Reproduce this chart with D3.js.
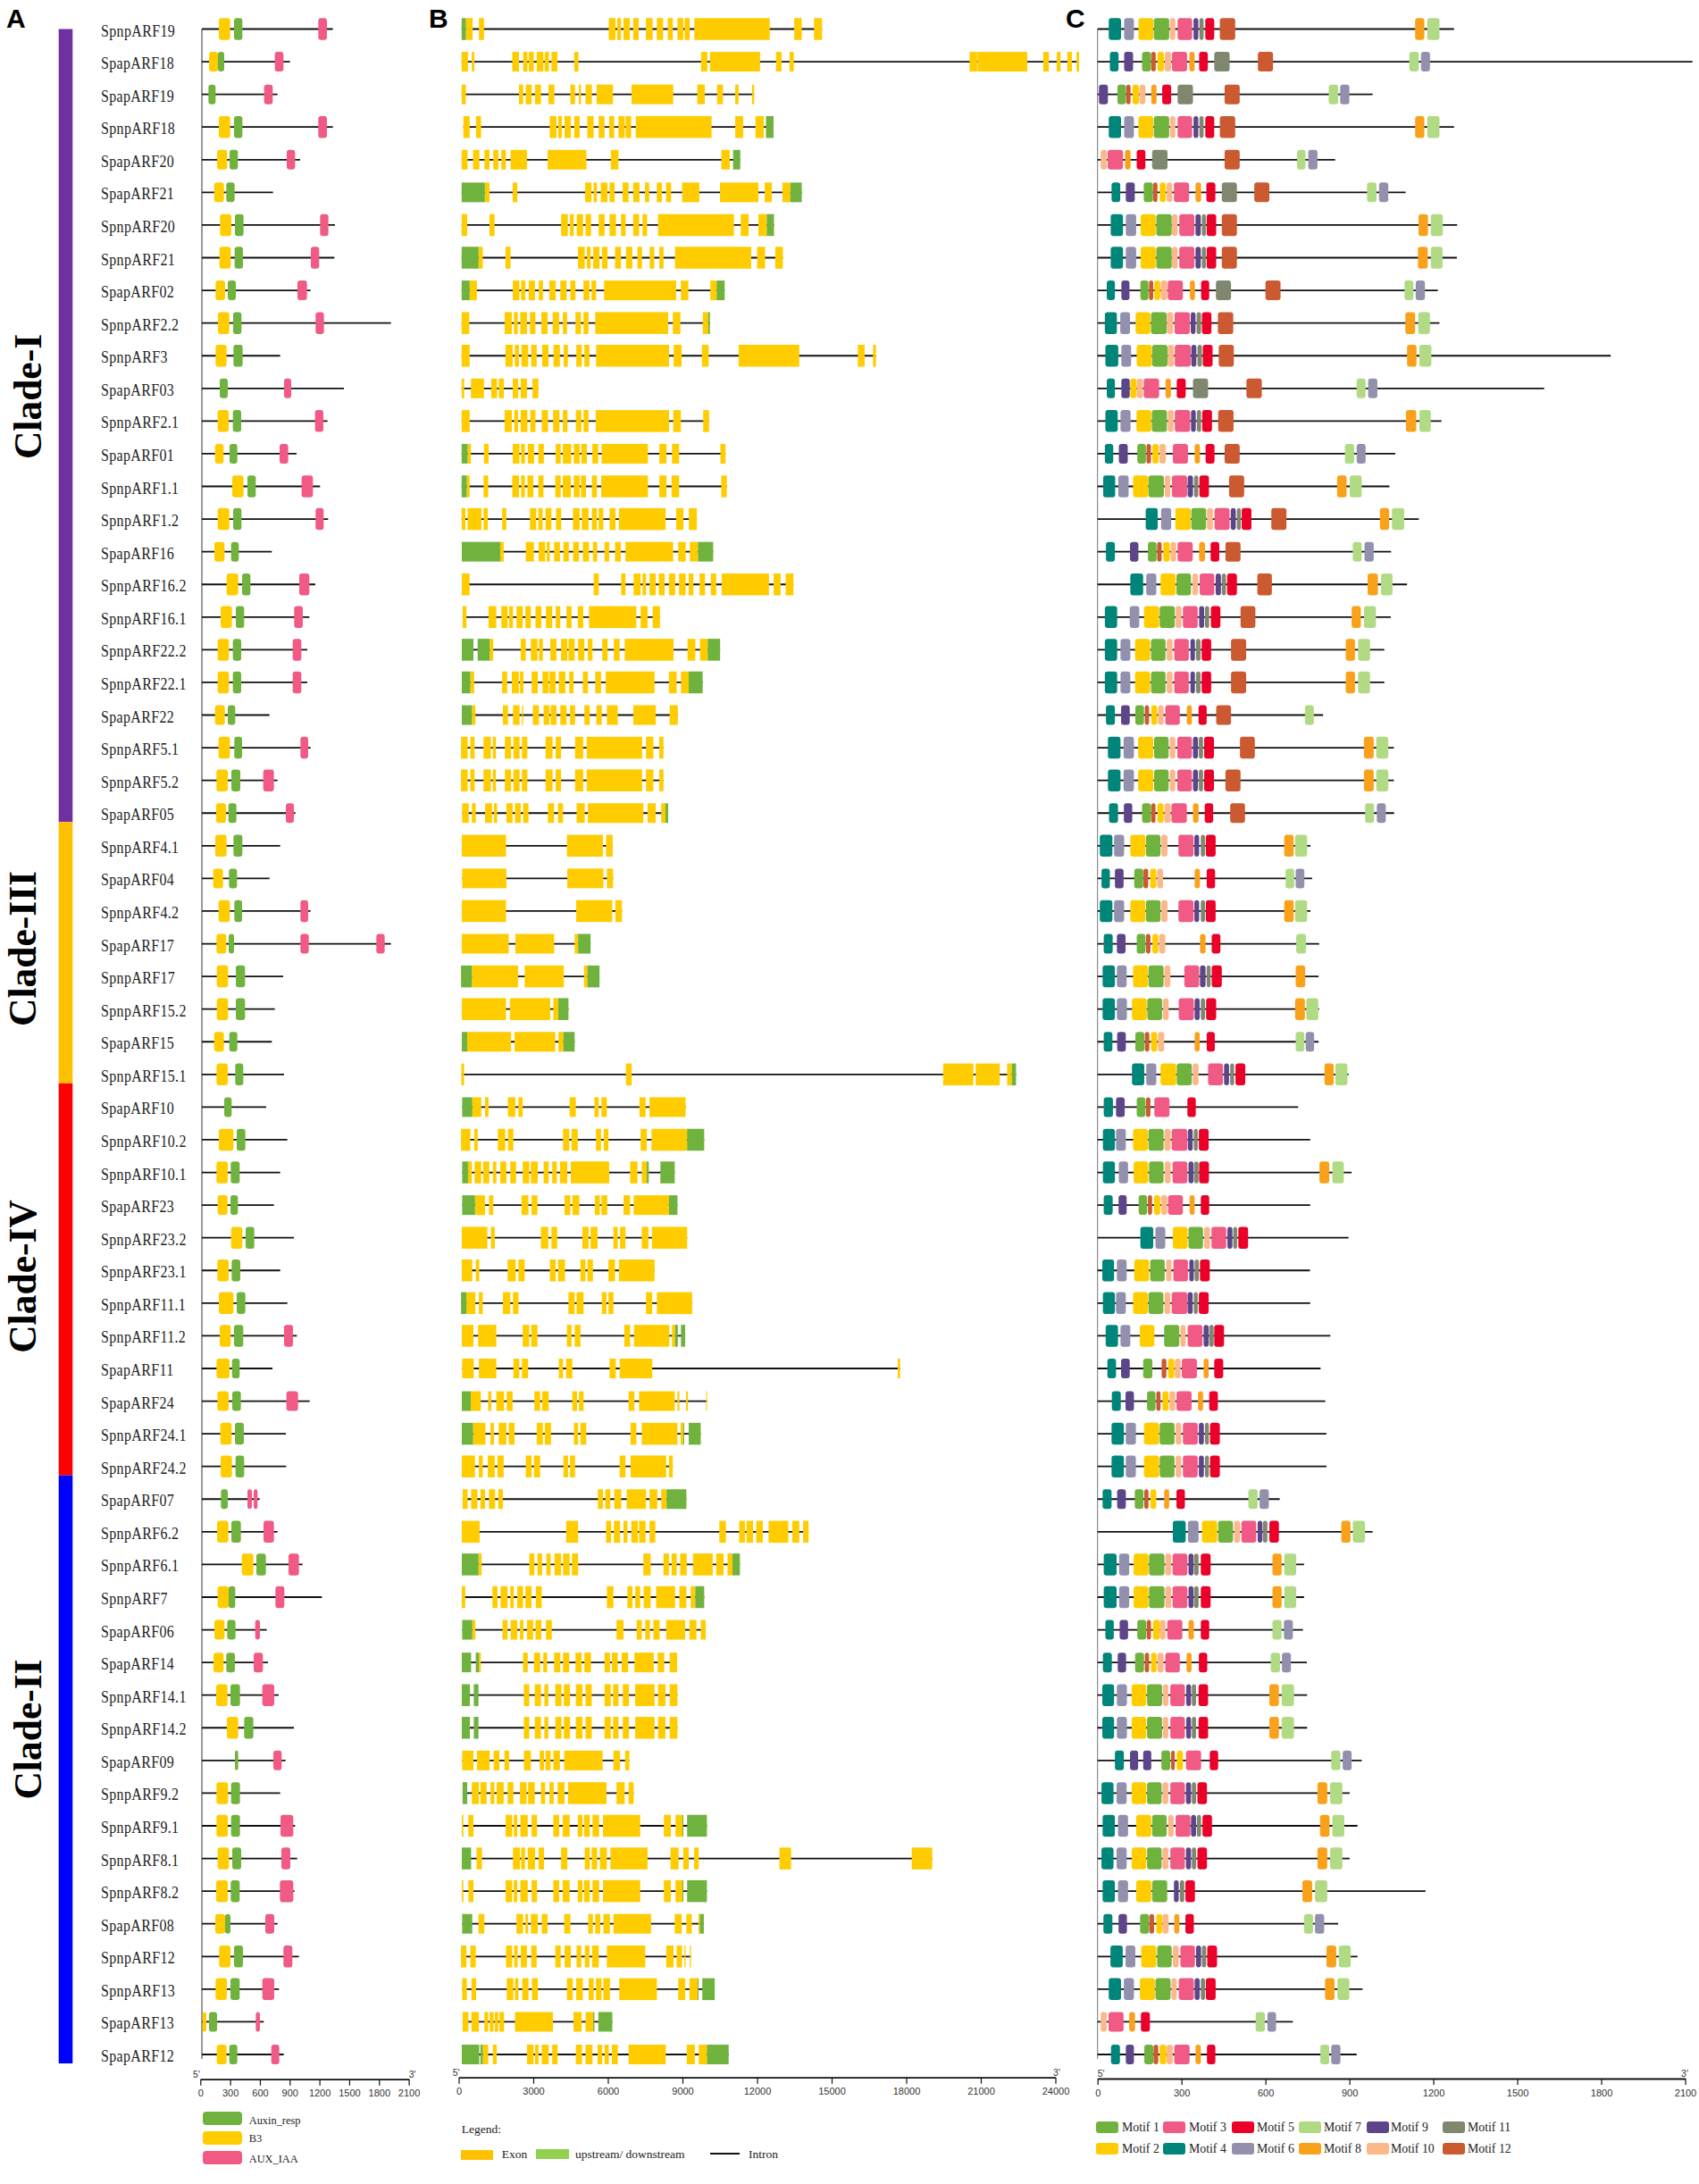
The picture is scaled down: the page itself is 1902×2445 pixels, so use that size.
<!DOCTYPE html>
<html>
<head>
<meta charset="utf-8">
<title>ARF gene family</title>
<script src="https://cdn.jsdelivr.net/npm/d3@7"></script>
<style>
  html, body { margin: 0; padding: 0; background: #fff; }
  svg { display: block; }
</style>
</head>
<body>
<div id="chart"></div>
<script>
const geneNames = [
  "SpnpARF19","SpapARF18","SpapARF19","SpnpARF18","SpapARF20","SpapARF21","SpnpARF20","SpnpARF21","SpapARF02","SpnpARF2.2",
  "SpnpARF3","SpapARF03","SpnpARF2.1","SpapARF01","SpnpARF1.1","SpnpARF1.2","SpapARF16","SpnpARF16.2","SpnpARF16.1","SpnpARF22.2",
  "SpnpARF22.1","SpapARF22","SpnpARF5.1","SpnpARF5.2","SpapARF05",
  "SpnpARF4.1","SpapARF04","SpnpARF4.2","SpapARF17","SpnpARF17","SpnpARF15.2","SpapARF15","SpnpARF15.1",
  "SpapARF10","SpnpARF10.2","SpnpARF10.1","SpapARF23","SpnpARF23.2","SpnpARF23.1","SpnpARF11.1","SpnpARF11.2","SpapARF11",
  "SpapARF24","SpnpARF24.1","SpnpARF24.2",
  "SpapARF07","SpnpARF6.2","SpnpARF6.1","SpnpARF7","SpapARF06","SpapARF14","SpnpARF14.1","SpnpARF14.2","SpapARF09","SpnpARF9.2",
  "SpnpARF9.1","SpnpARF8.1","SpnpARF8.2","SpapARF08","SpnpARF12","SpnpARF13","SpapARF13","SpapARF12"
];

const cladeNames = ["Clade-I", "Clade-III", "Clade-IV", "Clade-II"];
const cladeSizes = [25, 8, 12, 18];

// panel A, amino acids
const proteinLength = [
  1320,888,762,1320,990,717,1341,1335,1095,1905,789,1431,1266,954,1191,1272,705,1143,1083,1062,1062,681,1095,762,942,
  789,681,1095,1905,819,735,705,828,
  648,861,789,726,927,789,861,957,711,1086,846,849,
  582,762,1014,1209,654,666,774,927,843,789,939,960,933,762,978,777,624,825
];
const b3Domain = [
  [171,285],[72,162],null,[171,285],[153,255],[123,222],[183,297],[177,291],[138,234],[162,276],[138,249],null,[159,270],[132,219],[306,420],[159,276],
  [126,228],[249,366],[189,303],[159,273],[159,273],[132,231],[168,282],[147,261],[144,243],
  [135,249],[114,213],[168,282],[147,246],[150,264],[150,264],[123,222],[147,261],
  null,[171,318],[147,261],[159,258],[294,408],[156,270],[171,318],[180,291],[147,279],[156,270],[186,300],[189,303],
  null,[153,267],[402,519],[159,270],[126,228],[117,219],[144,258],[252,366],null,[147,264],[147,261],[159,273],[144,261],[135,234],[174,288],[138,252],[6,45],[150,249]
];
const auxinDomain = [
  [324,408],[162,225],[66,138],[324,408],[279,363],[246,330],[333,420],[330,414],[261,342],[315,399],[318,411],[180,261],[312,396],[279,357],[459,543],[315,399],
  [294,372],[405,489],[342,426],[312,396],[312,396],[261,336],[327,405],[297,387],[267,348],
  [318,408],[273,354],[327,405],[270,324],[342,435],[342,435],[276,357],[336,417],
  [225,300],[351,438],[291,381],[288,363],[441,528],[300,387],[351,438],[324,417],[303,381],[306,393],[333,423],[339,426],
  [192,261],[297,393],[549,645],[270,336],[255,339],[246,333],[288,384],[426,519],[333,366],[294,384],[294,384],[306,396],[291,381],[234,288],[324,414],[288,381],[72,153],[276,357]
];
const auxIaaDomain = [
  [1173,1260],[735,822],[627,714],[1173,1260],[855,939],[],[1191,1275],[1098,1182],[963,1059],[1146,1230],[],[828,900],[1140,1224],[783,870],[1005,1119],[1146,1227],
  [],[981,1083],[930,1017],[915,1002],[915,1002],[],[993,1071],[618,726],[846,927],
  [],[],[993,1071],[993,1077,1758,1842],[],[],[],[],
  [],[],[],[],[],[],[],[828,918],[],[852,969],[],[],
  [459,504,522,561],[621,726],[873,978],[741,831],[537,585],[522,615],[609,729],[],[720,804],[],[792,921],[801,891],[786,921],[639,729],[822,912],[609,729],[543,585],[699,780]
];

// panel B, base pairs: start,end pairs
const geneExons = [
  [288,560,815,1018,6035,6307,6375,6527,6628,6883,7018,7239,7528,7799,7967,8222,8408,8611,8798,9036,9086,9290,9476,12511,13494,13799,14290,14613],
  [119,374,526,628,2154,2425,2594,2764,2814,3018,3137,3408,3459,3629,3730,3968,4645,4815,9748,10001,10104,12121,12765,12986,13307,13477,20546,20851,20868,22868,23512,23733,24055,24207,24478,24665,24851,24954],
  [119,288,2425,2594,2696,2934,3069,3307,3611,3849,4492,4680,4832,4916,5103,5358,5544,6205,6951,8629,9595,9900,10392,10629,11121,11257,11798,11883],
  [187,442,695,899,3663,3933,4001,4153,4256,4509,4645,4866,5171,5426,5629,5866,6052,6255,6425,6679,6714,6934,7120,10171,11121,11442,11935,12274],
  [119,357,577,832,1035,1238,1391,1595,1713,1899,2086,2747,3577,5137,6120,6425,10562,10901],
  [1051,1238,2173,2357,5086,5341,5426,5561,5713,5985,6069,6272,6594,6832,7018,7272,7493,7662,7967,8171,8340,8543,8984,9679,10510,12053,12307,12595,13019,13341],
  [119,340,1238,1441,4120,4391,4476,4628,4747,5002,5103,5324,5629,5866,6069,6324,6527,6714,7018,7256,7391,7577,8018,11069,11341,11663,12053,12392],
  [798,968,1882,2086,4798,5069,5154,5306,5409,5662,5764,5985,6289,6527,6731,6984,7188,7374,7680,7866,8070,8239,8697,11764,12002,12325,12731,13037],
  [442,730,2173,2442,2510,2679,2814,3069,3221,3391,3646,3900,4087,4340,4492,4696,5019,5256,5341,5527,5849,8748,8934,9239,10120,10375],
  [119,425,1848,2137,2221,2374,2476,2747,2866,3086,3324,3577,3781,4036,4188,4357,4696,4916,5019,5222,5492,8425,8612,8917,9816,10037],
  [119,442,1882,2171,2255,2424,2527,2797,2916,3137,3357,3612,3815,4070,4222,4391,4730,4951,5053,5256,5527,8460,8646,8968,9782,10053,11257,13698,16054,16326,16665,16783],
  [119,221,492,1018,1306,1543,1612,1814,2173,2391,2493,2747,2967,3205],
  [119,442,1848,2137,2238,2390,2493,2764,2882,3086,3340,3594,3798,4053,4188,4374,4713,4934,5019,5222,5510,8460,8629,8934,9833,10070],
  [357,492,1018,1204,2173,2442,2510,2662,2780,3035,3204,3425,3900,4104,4188,4527,4629,4866,4933,5154,5375,5612,5747,7611,8070,8357,8578,8866,10527,10731],
  [322,442,1001,1188,2154,2425,2510,2662,2764,3001,3204,3408,3884,4104,4188,4510,4629,4866,4916,5120,5357,5561,5730,7611,8070,8357,8561,8866,10562,10783],
  [119,272,357,916,1001,1171,1747,1916,2866,3120,3204,3374,3493,3730,3916,4120,4595,4866,4951,5222,5358,5561,5629,5815,6069,6307,6442,8323,8747,9036,9256,9578],
  [1669,1810,2699,3026,3214,3479,3541,3666,3838,4072,4212,4430,4602,4836,4992,5242,5398,5569,5866,6053,6287,6521,6708,8627,8830,9126,9298,9625],
  [125,437,5429,5632,6536,6708,7036,7316,7394,7535,7675,7925,8050,8284,8455,8705,8861,9126,9251,9438,9688,9906,10140,10358,10577,12480,12667,12948,13151,13463],
  [156,312,1201,1513,1716,1966,2028,2184,2324,2574,2683,2902,3089,3323,3510,3760,3900,4087,4337,4540,4789,5008,5242,7145,7316,7597,7800,8096],
  [1248,1388,2496,2699,2902,3167,3229,3385,3682,3931,4118,4368,4415,4664,4805,5054,5195,5382,5772,5990,6240,6474,6677,8642,9204,9516,9703,10015],
  [468,624,1747,1950,2137,2418,2465,2605,2933,3182,3370,3619,3650,3900,4025,4290,4446,4618,4992,5195,5491,5725,5912,7878,8455,8767,8939,9251],
  [530,671,1778,1981,2184,2449,2543,2590,2980,3229,3416,3650,3697,3931,4087,4337,4477,4680,5054,5273,5538,5756,5959,6396,7020,7925,8486,8814],
  [94,359,468,640,998,1295,1373,1498,1856,2106,2200,2449,2543,2761,3494,3775,3900,4118,4680,5008,5148,7379,7535,7831,8065,8237],
  [94,359,468,640,998,1295,1373,1498,1856,2106,2200,2449,2543,2761,3494,3775,3900,4118,4680,5008,5148,7379,7535,7831,8065,8237],
  [140,406,530,686,1061,1342,1420,1544,1919,2168,2262,2496,2590,2808,3588,3838,3994,4196,4742,5070,5195,7426,7597,7925,8143,8315],
  [125,1903,4352,5803,5928,6193],
  [140,1919,4368,5819,5959,6209],
  [125,1903,4727,6178,6302,6568],
  [125,2012,2278,3838,4664,4805],
  [530,2387,2652,4228,5039,5179],
  [125,1903,2059,3682,3806,4009],
  [343,2106,2246,3884,4009,4212],
  [109,218,6724,6958,19484,20701,20795,21762,22058,22246],
  [546,905,1061,1201,1981,2278,2402,2574,4462,4711,5460,5632,5741,5959,7270,7519,7675,9126],
  [94,468,624,764,1576,1872,1981,2200,4196,4446,4540,4789,5522,5725,5834,6022,7316,7566,7753,9188],
  [374,530,640,905,983,1232,1373,1513,1669,1919,2075,2309,2574,2839,2902,3182,3416,3619,3760,3947,4072,4368,4508,6053,6895,7192,7363,7566],
  [655,1061,1217,1388,2527,2808,2933,3167,4259,4493,4571,4852,5476,5678,5741,5975,6630,6895,7036,8455],
  [125,1154,1295,1451,3307,3604,3728,3962,4976,5226,5304,5585,6224,6396,6490,6708,7363,7628,7769,9188],
  [125,546,686,827,1966,2293,2402,2652,3666,3900,3994,4274,4898,5101,5179,5398,6022,6287,6443,7878],
  [312,671,811,967,1778,2075,2184,2402,4415,4664,4742,5023,5756,5944,6022,6224,7535,7784,7972,9391],
  [125,593,780,1513,2574,2839,2917,3167,4352,4540,4664,4898,6661,6895,7051,8471,8580,8705],
  [140,608,811,1513,2200,2434,2543,2792,4025,4196,4321,4571,6068,6318,6474,7784,17659,17753],
  [484,889,1186,1310,1513,1825,1934,2168,3042,3276,3354,3619,4571,4758,4836,5023,6833,7067,7254,8689,8798,8876,9142,9220,9953,9984],
  [577,1076,1279,1420,1607,1919,2012,2246,3136,3385,3463,3713,4633,4805,4898,5132,6911,7145,7363,8798,8923,9032],
  [125,655,811,967,1170,1451,1560,1810,2699,2933,3026,3276,4212,4399,4477,4680,6474,6708,6911,8346,8455,8611],
  [156,359,499,749,874,1061,1217,1466,1591,1778,5600,5803,5897,6100,6256,6536,6755,7535,7675,7987,8143,8362],
  [125,842,4321,4805,5928,6131,6240,6490,6630,6786,6942,7207,7254,7519,7675,7909,10483,10748,11279,11513,11575,11840,11965,12230,12464,13260,13416,13697,13853,14071],
  [796,921,2839,3042,3167,3354,3526,3697,3853,4118,4196,4462,4555,4805,7426,7722,8237,8455,8564,8767,8908,9173,9422,10218,10358,10655,10811,11014],
  [125,265,1357,1560,1685,1966,2075,2215,2356,2590,2683,2933,3104,3338,5959,6224,6786,6989,7098,7301,7441,7722,7940,8705,8876,9157,9329,9516],
  [546,671,1763,1966,2090,2356,2465,2605,2746,2995,3089,3323,3510,3744,6349,6630,7160,7363,7504,7691,7831,8081,8346,9110,9282,9563,9734,9937],
  [811,889,2590,2777,3026,3276,3401,3557,3838,4087,4196,4446,4696,4945,5054,5320,5866,6084,6162,6396,6552,6817,7067,7847,8003,8268,8486,8783],
  [2621,2839,3058,3307,3448,3604,3884,4134,4228,4477,4711,4976,5101,5351,5866,6115,6209,6427,6599,6848,7098,7878,8018,8315,8486,8798],
  [2621,2839,3058,3307,3448,3604,3884,4134,4228,4477,4711,4976,5101,5351,5866,6115,6209,6427,6599,6848,7098,7878,8018,8315,8486,8798],
  [140,593,733,1248,1404,1638,1841,2028,2621,2902,3260,3432,3494,3697,3806,4072,4243,5788,6224,6490,6692,6864],
  [530,811,874,1123,1279,1435,1529,1810,1966,2200,2465,2730,2792,3058,3307,3479,3650,3822,3978,4259,4399,5944,6349,6677,6833,7036],
  [125,187,390,593,1888,2153,2215,2356,2480,2777,2933,3151,3806,4040,4181,4462,4789,4976,5039,5273,5382,5647,5803,7301,8252,8533,8720,9001],
  [718,936,2184,2465,2512,2668,2777,3073,3214,3432,4118,4368,5070,5273,5351,5569,5678,5959,6100,7597,8518,8845,9032,9251,9469,9656,12901,13369,18221,19048],
  [125,187,390,593,1888,2153,2215,2356,2480,2777,2933,3151,3806,4040,4181,4462,4789,4976,5039,5273,5382,5647,5803,7301,8252,8533,8720,9001],
  [796,1030,2324,2590,2683,2792,2902,3182,3338,3572,4243,4493,5210,5398,5491,5694,5819,6084,6224,7738,8689,8970,9157,9376,9641,9703],
  [94,312,468,686,1903,2153,2231,2371,2496,2746,2917,3136,3884,4103,4259,4508,4742,4930,5070,5257,5366,5632,5959,7504,8346,8642,8767,8986,9079,9126,9298,9344],
  [140,328,515,702,1934,2200,2262,2402,2558,2808,2948,3182,4352,4586,4727,4992,5226,5429,5522,5741,5819,6084,6458,7972,8830,9110,9282,9610],
  [156,390,515,811,1030,1186,1248,1404,1451,1591,1638,1825,2262,3791,4618,4945,5101,5413],
  [967,1186,1373,1529,2746,3011,3073,3214,3338,3619,3760,3978,4711,4961,5101,5382,5585,5772,5866,6037,6162,6396,6833,8330,9173,9500,9656,9984]
];
const geneUtrs = [
  [119,288],[],[],[12358,12664],[11036,11324],[119,1051,13341,13799],[12392,12681],[119,798],[119,442,10375,10697],[10037,10104],
  [],[],[],[119,357],[119,322],[],[125,1669,9625,10234],[],[],[125,593,764,1248,10015,10514],
  [125,468,9251,9812],[125,530],[],[],[8315,8424],
  [],[],[],[4805,5304],[94,530,5179,5663],[4009,4415],[125,343,4212,4664],[22246,22417],
  [140,546],[9188,9874],[140,374,7566,7644,8112,8689],[140,655,8455,8798],[],[],[94,312],[8705,8814,8939,9110],[],
  [125,484],[125,577,9032,9064,9251,9734],[],
  [8362,9157],[],[125,796,11014,11310],[9516,9875],[140,546],[125,499,686,811],[125,452,608,796],[125,452,608,796],[],[156,343],
  [9001,9032,9188,9984],[125,499],[9001,9032,9188,9984],[140,546,9703,9859],[],[9610,9641,9797,10296],[5413,5460,5616,6178],[125,827,874,967,9984,10858]
];

// panel C, amino acids
const motifLength = [
  1274,2126,983,1274,849,1101,1285,1284,1216,1222,1834,1596,1229,1064,1043,1148,1049,1106,1048,1025,1025,806,1059,1059,1060,
  761,767,761,792,790,792,790,897,
  717,760,908,760,897,759,760,832,797,814,818,818,
  651,983,738,738,734,748,749,749,944,901,929,901,1172,860,929,947,698,926
];
// motif number, start, end
const geneMotifs = [
  [4,40,84,6,95,130,2,146,199,1,201,256,10,259,278,3,286,338,9,343,360,11,364,379,5,385,417,12,437,492,8,1135,1168,7,1178,1222],
  [4,44,75,9,95,127,1,159,191,12,192,208,2,214,237,10,240,263,3,266,320,8,328,347,5,363,394,11,417,472,12,573,627,7,1114,1148,6,1156,1188],
  [9,5,37,1,71,101,12,102,118,2,125,148,10,150,171,8,192,211,5,231,263,11,286,341,12,454,508,7,826,860,6,867,900],
  [4,40,84,6,95,130,2,146,199,1,201,256,10,259,278,3,286,338,9,343,360,11,364,379,5,385,417,12,437,492,8,1135,1168,7,1178,1222],
  [10,11,33,3,36,91,8,98,118,5,140,171,11,195,250,12,454,508,7,713,743,6,753,786],
  [4,50,81,9,101,133,1,165,198,12,199,214,2,222,244,10,247,267,3,273,327,8,350,370,5,389,421,11,444,498,12,560,614,7,963,997,6,1006,1039],
  [4,47,91,6,101,138,2,154,208,1,210,265,10,266,286,3,292,346,9,350,369,11,373,387,5,390,424,12,444,498,8,1147,1181,7,1191,1234],
  [4,47,91,6,101,138,2,154,208,1,210,265,10,266,286,3,292,346,9,350,369,11,373,387,5,390,424,12,444,498,8,1145,1180,7,1191,1233],
  [4,33,62,9,85,114,1,153,182,12,184,199,2,203,224,10,226,249,3,251,305,8,330,348,5,370,399,11,423,477,12,600,654,7,1097,1129,6,1137,1170],
  [4,26,69,6,81,116,2,136,189,1,191,247,10,248,270,3,275,330,9,333,350,11,354,370,5,373,407,12,430,485,8,1100,1135,7,1146,1188],
  [4,28,74,6,85,120,2,140,194,1,195,250,10,251,273,3,276,333,9,335,353,11,357,373,5,376,411,12,433,487,8,1106,1140,7,1150,1193],
  [4,33,62,9,85,115,2,117,139,10,140,162,3,165,220,8,243,262,5,283,315,11,341,395,12,532,587,7,926,958,6,967,1000],
  [4,28,72,6,82,118,2,139,192,1,194,248,10,251,272,3,276,331,9,334,351,11,355,370,5,374,409,12,431,486,8,1102,1139,7,1150,1191],
  [4,26,56,9,76,108,1,142,173,12,175,191,2,196,218,10,221,244,3,269,323,8,347,366,5,386,418,12,454,508,7,884,917,6,926,958],
  [4,20,63,6,74,111,2,127,181,1,182,237,10,240,260,3,266,320,9,322,341,11,345,360,5,364,398,12,470,524,8,856,890,7,901,944],
  [4,172,215,6,227,263,2,278,333,1,335,388,10,391,412,3,418,472,9,476,494,11,498,512,5,515,550,12,621,675,8,1009,1042,7,1052,1096],
  [4,30,62,9,116,146,1,180,211,12,213,229,2,235,258,10,261,281,3,286,340,8,363,384,5,404,435,12,457,511,7,912,944,6,954,987],
  [4,117,163,6,174,210,2,225,279,1,282,334,10,339,359,3,365,417,9,422,441,11,444,459,5,463,498,12,571,623,8,965,1002,7,1013,1054],
  [4,26,70,6,115,149,2,166,220,1,222,276,10,279,300,3,305,358,9,363,381,11,384,399,5,405,439,12,511,564,8,908,941,7,952,995],
  [4,26,70,6,82,117,2,134,188,1,191,243,10,247,268,3,274,326,9,332,348,11,352,368,5,372,406,12,477,531,8,887,920,7,931,974],
  [4,26,70,6,82,117,2,134,188,1,191,243,10,247,268,3,274,326,9,332,348,11,352,368,5,372,406,12,477,531,8,887,920,7,931,974],
  [4,30,62,9,84,115,1,135,166,12,169,184,2,192,213,10,216,236,3,242,294,8,319,337,5,361,390,12,424,477,7,741,773],
  [4,37,82,6,93,130,2,145,199,1,202,254,10,258,278,3,285,337,9,341,359,11,362,377,5,381,416,12,509,562,8,952,987,7,996,1039],
  [4,37,82,6,93,130,2,145,199,1,202,254,10,258,278,3,285,337,9,341,359,11,362,377,5,381,416,12,457,511,8,952,987,7,996,1039],
  [4,41,73,9,94,124,1,159,191,12,192,207,2,214,236,10,239,261,3,264,319,8,341,361,5,383,413,12,474,527,7,956,988,6,998,1030],
  [4,8,53,6,59,95,2,117,171,1,173,225,10,228,250,3,289,343,9,346,363,11,369,384,5,387,422,8,667,701,7,706,749],
  [4,14,44,9,62,93,1,131,163,12,164,181,2,188,210,10,213,234,8,347,366,5,390,420,7,672,703,6,708,739],
  [4,8,53,6,59,95,2,117,171,1,173,225,10,228,250,3,289,343,9,346,363,11,369,384,5,387,422,8,667,701,7,706,749],
  [4,22,54,9,69,100,1,140,171,12,173,189,2,196,217,10,220,242,8,366,386,5,408,439,7,710,745],
  [4,18,62,6,69,104,2,127,180,1,182,236,10,239,260,3,310,363,9,366,386,11,390,404,5,408,444,8,708,742],
  [4,18,62,6,69,105,2,123,176,1,178,231,10,234,254,3,290,344,9,347,365,11,369,384,5,388,424,8,706,741,7,746,789],
  [4,22,53,9,70,101,1,135,167,12,169,185,2,191,213,10,216,238,8,347,365,5,390,419,7,708,739,6,744,774],
  [4,123,167,6,174,210,2,225,281,1,283,337,10,340,361,3,395,448,9,452,470,11,474,488,5,493,528,8,811,844,7,850,893],
  [4,22,55,9,66,97,1,140,171,12,173,189,3,203,257,5,321,351],
  [4,19,62,6,66,101,2,127,180,1,182,236,10,239,261,3,265,321,9,323,340,11,344,358,5,362,397],
  [4,19,62,6,76,109,2,129,181,1,184,236,10,240,261,3,268,321,9,325,343,11,345,361,5,363,398,8,793,828,7,839,880],
  [4,22,54,9,75,104,1,147,177,12,180,195,2,202,224,10,227,249,3,252,305,8,329,347,5,369,399],
  [4,153,199,6,207,242,2,269,322,1,325,377,10,381,402,3,407,460,9,464,482,11,485,499,5,503,538],
  [4,17,59,6,69,104,2,131,184,1,188,240,10,245,264,3,271,323,9,328,344,11,347,362,5,366,401],
  [4,19,62,6,66,101,2,127,180,1,182,235,10,239,260,3,265,321,9,322,340,11,344,358,5,362,397],
  [4,29,73,6,82,117,2,151,203,1,238,292,10,296,315,3,322,375,9,379,397,11,399,415,5,417,452],
  [4,35,66,9,84,115,1,163,196,12,229,246,2,252,274,10,276,297,3,301,355,8,379,397,5,417,449],
  [4,51,83,9,100,130,1,177,207,12,210,225,2,232,254,10,257,278,3,282,336,8,359,377,5,399,430],
  [4,50,94,6,101,137,2,166,220,1,222,275,10,279,299,3,305,358,9,362,380,11,384,398,5,402,437],
  [4,50,94,6,101,137,2,166,220,1,222,275,10,279,299,3,305,358,9,362,380,11,384,398,5,402,437],
  [4,18,50,9,70,101,1,133,164,12,167,182,2,189,210,8,238,256,5,282,312,7,539,572,6,579,612],
  [4,269,315,6,323,361,2,373,428,1,431,484,10,488,509,3,514,567,9,572,589,11,591,607,5,614,648,8,871,904,7,912,956],
  [4,22,68,6,77,113,2,129,182,1,184,239,10,242,263,3,268,321,9,325,343,11,345,361,5,369,404,8,625,658,7,667,710],
  [4,22,68,6,77,113,2,129,182,1,184,239,10,242,263,3,268,321,9,325,343,11,345,361,5,369,404,8,625,658,7,667,710],
  [4,28,58,9,79,109,1,142,174,12,176,191,2,198,223,10,223,243,3,249,303,8,325,344,5,369,399,7,625,658,6,666,698],
  [4,19,51,9,72,102,1,134,166,12,169,184,2,191,211,10,214,236,3,242,294,8,318,336,5,362,392,7,619,652,6,659,691],
  [4,17,59,6,69,105,2,122,174,1,177,231,10,234,253,3,260,312,9,317,334,11,337,352,5,361,395,8,614,648,7,658,702],
  [4,17,59,6,69,105,2,122,174,1,177,231,10,234,253,3,260,312,9,317,334,11,337,352,5,361,395,8,614,648,7,658,702],
  [4,62,94,9,116,145,9,163,192,1,228,260,12,263,276,2,283,305,3,316,370,5,401,431,7,835,868,6,876,908],
  [4,14,57,6,68,104,2,122,174,1,177,229,10,232,253,3,260,312,9,316,334,11,337,352,5,357,391,8,786,821,7,831,875],
  [4,18,62,6,73,109,2,138,192,1,195,247,10,252,272,3,279,332,9,334,352,11,355,370,5,375,409,8,795,829,7,839,882],
  [4,14,57,6,68,104,2,122,174,1,177,229,10,232,253,3,260,312,9,316,334,11,337,352,5,357,391,8,786,821,7,831,875],
  [4,18,62,6,73,109,2,138,192,1,195,249,9,273,290,11,294,310,5,314,348,8,732,767,7,777,821],
  [4,21,53,9,75,105,1,152,184,12,185,202,2,210,231,10,232,254,8,274,292,5,314,344,7,738,770,6,777,810],
  [4,46,90,6,100,135,2,156,210,1,213,265,10,269,290,3,296,348,9,352,370,11,373,388,5,392,427,8,818,853,7,862,905],
  [4,40,84,6,94,130,2,151,205,1,207,261,10,264,283,3,290,344,9,347,365,11,369,384,5,387,422,8,813,847,7,857,900],
  [10,11,33,3,39,93,8,113,134,5,155,187,7,565,598,6,607,638],
  [4,48,80,9,101,130,1,167,199,12,200,217,2,222,246,10,247,269,3,274,329,8,350,369,5,391,421,7,796,828,6,835,868]
];

const aaTicks = [0, 300, 600, 900, 1200, 1500, 1800, 2100];
const bpTicks = [0, 3000, 6000, 9000, 12000, 15000, 18000, 21000, 24000];
const domainNames = ["Auxin_resp", "B3", "AUX_IAA"];
const motifNumbers = d3.range(1, 13);

const COLORS = {
  clades: ["#7030a0", "#ffc000", "#ff0000", "#0000ff"],
  domains: { "Auxin_resp": "#70b23e", "B3": "#ffcc00", "AUX_IAA": "#f05a84" },
  exon: "#ffcc00",
  utr: "#70b23e",
  legendExon: "#ffc000",
  legendUtr: "#92d050",
  motifs: { 1: "#70b23e", 2: "#ffcc00", 3: "#f05a84", 4: "#00857a", 5: "#ea0029", 6: "#9390ae", 7: "#b0db84", 8: "#f9a11b", 9: "#5c4689", 10: "#fbb88a", 11: "#80876f", 12: "#cb5a30" }
};

const width = 1902, height = 2445;
const SERIF = "'Liberation Serif', serif";
const SANS = "'Liberation Sans', Arial, sans-serif";

const svg = d3.select("#chart").append("svg")
  .attr("width", width).attr("height", height)
  .attr("viewBox", `0 0 ${width} ${height}`);

const rowY = d3.scalePoint().domain(d3.range(geneNames.length)).range([32.5, 2300]);
const rowH = i => geneNames[i].startsWith("Spap") ? 22 : 24.5;

const xA = d3.scaleLinear().domain([0, 2100]).range([226, 459.3]);
const xB = d3.scaleLinear().domain([0, 24000]).range([513.5, 1181.5]);
const xC = d3.scaleLinear().domain([0, 2100]).range([1228.7, 1886.5]);

// [1,2,3,4] -> [[1,2],[3,4]]
const toPairs = flat => d3.range(0, flat.length, 2).map(k => [flat[k], flat[k + 1]]);
const toTriples = flat => d3.range(0, flat.length, 3).map(k => ({ motif: flat[k], start: flat[k + 1], end: flat[k + 2] }));

function drawIntrons(x, spans) {
  svg.append("g").selectAll("line")
    .data(spans)
    .enter().append("line")
    .attr("x1", d => x(d.start)).attr("x2", d => x(d.end))
    .attr("y1", d => rowY(d.row)).attr("y2", d => rowY(d.row))
    .attr("stroke", "#111").attr("stroke-width", 1.8);
}

function drawBoxes(x, boxes, radius) {
  svg.append("g").selectAll("rect")
    .data(boxes)
    .enter().append("rect")
    .attr("x", d => x(d.start))
    .attr("width", d => Math.max(x(d.end) - x(d.start), 1))
    .attr("y", d => rowY(d.row) - rowH(d.row) / 2)
    .attr("height", d => rowH(d.row))
    .attr("rx", radius).attr("ry", radius)
    .attr("fill", d => d.color);
}

function drawAxis(x, y, ticks, label5x, label3x, shift) {
  const g = svg.append("g")
    .attr("transform", `translate(${shift},${y})`)
    .call(d3.axisBottom(x).tickValues(ticks).tickFormat(d3.format("d")).tickSize(7).tickPadding(5).tickSizeOuter(0));
  g.select(".domain").attr("stroke", "#111").attr("stroke-width", 1.8);
  g.selectAll(".tick line").attr("stroke", "#111").attr("stroke-width", 1.2);
  g.selectAll("text").attr("font-family", SANS).attr("font-size", 11).attr("fill", "#333");
  [["5'", label5x], ["3'", label3x]].forEach(([t, lx]) => {
    svg.append("text").attr("x", lx).attr("y", y - 2)
      .attr("text-anchor", "middle")
      .attr("font-family", SANS).attr("font-size", 10.5).attr("fill", "#333").text(t);
  });
}

//////////////////////
//  CLADE BAR + LABELS
//////////////////////
const cladeEnds = d3.cumsum(cladeSizes);
const cladeLabelPos = [[46, 444], [40, 1062], [40, 1429], [46, 1936]];
cladeNames.forEach((name, i) => {
  const top = i === 0 ? rowY(0) : rowY(cladeEnds[i - 1] - 1) + 10;
  const bottom = rowY(cladeEnds[i] - 1) + 10;
  svg.append("rect").attr("x", 65.7).attr("width", 15.6)
    .attr("y", top).attr("height", bottom - top)
    .attr("fill", COLORS.clades[i]);
  svg.append("text")
    .attr("transform", `translate(${cladeLabelPos[i][0]},${cladeLabelPos[i][1]}) rotate(-90)`)
    .attr("text-anchor", "middle")
    .attr("font-family", SERIF).attr("font-weight", "bold").attr("font-size", 43.5)
    .text(name);
});

// panel letters
[["A", 7], ["B", 480], ["C", 1193]].forEach(([t, lx]) => {
  svg.append("text").attr("x", lx).attr("y", 31)
    .attr("font-family", SANS).attr("font-weight", "bold").attr("font-size", 30).text(t);
});

// gene labels
svg.append("g").selectAll("text")
  .data(geneNames)
  .enter().append("text")
  .attr("transform", (d, i) => `translate(113,${rowY(i) + 8}) scale(1,1.18)`)
  .attr("font-family", SERIF).attr("font-size", 16).attr("letter-spacing", 0.35).attr("fill", "#222")
  .text(d => d);

//////////////////////
//  PANEL A
//////////////////////
svg.append("line").attr("x1", xA(0)).attr("x2", xA(0))
  .attr("y1", rowY(0)).attr("y2", 2305)
  .attr("stroke", "#777").attr("stroke-width", 1.5);
drawIntrons(xA, proteinLength.map((end, row) => ({ row, start: 0, end })));
const domainBoxes = [];
geneNames.forEach((g, row) => {
  if (b3Domain[row]) domainBoxes.push({ row, start: b3Domain[row][0], end: b3Domain[row][1], color: COLORS.domains["B3"] });
  if (auxinDomain[row]) domainBoxes.push({ row, start: auxinDomain[row][0], end: auxinDomain[row][1], color: COLORS.domains["Auxin_resp"] });
  toPairs(auxIaaDomain[row]).forEach(p => domainBoxes.push({ row, start: p[0], end: p[1], color: COLORS.domains["AUX_IAA"] }));
});
drawBoxes(xA, domainBoxes, 3);
drawAxis(xA, 2327.7, aaTicks, 220, 461.6, -1.7);

domainNames.forEach((name, i) => {
  const top = [2364, 2386, 2408][i];
  svg.append("rect").attr("x", 227).attr("y", top).attr("width", 44).attr("height", 15)
    .attr("rx", 4).attr("fill", COLORS.domains[name]);
  svg.append("text").attr("x", 278.7).attr("y", [2378, 2398, 2421][i])
    .attr("font-family", SERIF).attr("font-size", 12.4).attr("fill", "#222").text(name);
});

//////////////////////
//  PANEL B
//////////////////////
const exonBoxes = [], utrBoxes = [], bSpans = [];
geneNames.forEach((g, row) => {
  const ex = toPairs(geneExons[row]), ut = toPairs(geneUtrs[row]);
  ex.forEach(p => exonBoxes.push({ row, start: p[0], end: p[1], color: COLORS.exon }));
  ut.forEach(p => utrBoxes.push({ row, start: p[0], end: p[1], color: COLORS.utr }));
  const all = geneExons[row].concat(geneUtrs[row]);
  bSpans.push({ row, start: d3.min(all), end: d3.max(all) });
});
drawIntrons(xB, bSpans);
drawBoxes(xB, exonBoxes, 0);
drawBoxes(xB, utrBoxes, 0);
drawAxis(xB, 2325.7, bpTicks, 510.7, 1183, 0);

svg.append("text").attr("x", 516.7).attr("y", 2388)
  .attr("font-family", SERIF).attr("font-size", 13.5).attr("fill", "#222").text("Legend:");
svg.append("rect").attr("x", 516).attr("y", 2407).attr("width", 36).attr("height", 11).attr("fill", COLORS.legendExon);
svg.append("text").attr("x", 561.7).attr("y", 2416)
  .attr("font-family", SERIF).attr("font-size", 13.5).attr("fill", "#222").text("Exon");
svg.append("rect").attr("x", 600).attr("y", 2406).attr("width", 37).attr("height", 11).attr("fill", COLORS.legendUtr);
svg.append("text").attr("x", 644).attr("y", 2416)
  .attr("font-family", SERIF).attr("font-size", 13.5).attr("fill", "#222").text("upstream/ downstream");
svg.append("line").attr("x1", 795).attr("x2", 828).attr("y1", 2411).attr("y2", 2411)
  .attr("stroke", "#111").attr("stroke-width", 1.8);
svg.append("text").attr("x", 838).attr("y", 2416)
  .attr("font-family", SERIF).attr("font-size", 13.5).attr("fill", "#222").text("Intron");

//////////////////////
//  PANEL C
//////////////////////
svg.append("line").attr("x1", xC(0)).attr("x2", xC(0))
  .attr("y1", rowY(0)).attr("y2", 2305)
  .attr("stroke", "#777").attr("stroke-width", 1);
drawIntrons(xC, motifLength.map((end, row) => ({ row, start: 0, end })));
const motifBoxes = [];
geneNames.forEach((g, row) => {
  toTriples(geneMotifs[row]).forEach(m => motifBoxes.push({ row, start: m.start, end: m.end, color: COLORS.motifs[m.motif] }));
});
drawBoxes(xC, motifBoxes, 3);
drawAxis(xC, 2327, aaTicks, 1232.7, 1886, 0);

const motifRectX = [1227, 1302, 1379, 1454, 1530, 1615];
const motifTextX = [1256, 1331, 1407, 1482, 1557, 1643];
motifNumbers.forEach(n => {
  const col = Math.floor((n - 1) / 2), line = (n - 1) % 2;
  svg.append("rect").attr("x", motifRectX[col]).attr("y", line ? 2399 : 2375)
    .attr("width", 25).attr("height", 13).attr("rx", 3).attr("fill", COLORS.motifs[n]);
  svg.append("text").attr("x", motifTextX[col]).attr("y", line ? 2410 : 2386)
    .attr("font-family", SERIF).attr("font-size", 13.8).attr("fill", "#222").text(`Motif ${n}`);
});
</script>
</body>
</html>
